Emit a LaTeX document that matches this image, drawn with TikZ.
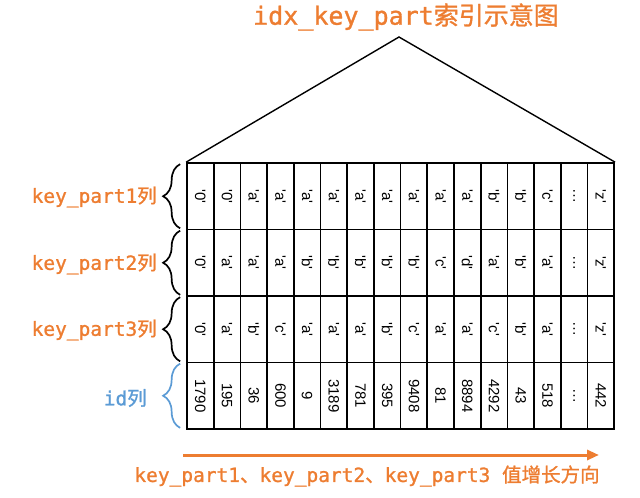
\documentclass[tikz,border=0pt]{standalone}
\usepackage{fontspec}
\usepackage{graphicx}
\usetikzlibrary{arrows.meta,decorations.pathreplacing}
\setmainfont{Liberation Sans}
\newfontfamily\cjk[FakeBold=1.2]{Noto Sans CJK SC}
\newfontfamily\lmono[FakeBold=1.2]{DejaVu Sans Mono}
\definecolor{orng}{RGB}{237,125,49}
\definecolor{blu}{RGB}{91,155,213}
\newcommand{\qq}[1]{\textquotesingle#1\textquotesingle}
\begin{document}
\begin{tikzpicture}[x=1pt,y=-1pt,
  cell/.style={draw,line width=1.7pt,minimum width=26.7pt,minimum height=66.5pt,inner sep=0pt,font=\fontsize{15}{15}\selectfont},
  bracedec/.style={decorate,decoration={brace,amplitude=17pt},line width=1.7pt},
  lbl/.style={anchor=east,inner sep=0pt,font=\fontsize{19.5}{19.5}\selectfont},
  ttl/.style={inner sep=0pt,text=orng,font=\fontsize{25}{25}\selectfont},
  edge/.style={line width=1.4pt,line join=miter}]
\useasboundingbox (0,0) rectangle (640,498);
% title
\node[ttl] (title) at (406,17) {{\lmono idx\_key\_part}{\cjk 索引示意图}};
% rows
\foreach \v [count=\k] in {\qq{0},\qq{0},\qq{a},\qq{a},\qq{a},\qq{a},\qq{a},\qq{a},\qq{a},\qq{a},\qq{a},\qq{b},\qq{b},\qq{c},…,\qq{z}}
  \node[cell] (c-1-\k) at ({187+26.7*(\k-0.5)},196.25) {\rotatebox{-90}{\v}};
\foreach \v [count=\k] in {\qq{0},\qq{a},\qq{a},\qq{a},\qq{b},\qq{b},\qq{b},\qq{b},\qq{b},\qq{c},\qq{d},\qq{a},\qq{b},\qq{a},…,\qq{z}}
  \node[cell] (c-2-\k) at ({187+26.7*(\k-0.5)},262.75) {\rotatebox{-90}{\v}};
\foreach \v [count=\k] in {\qq{0},\qq{a},\qq{b},\qq{c},\qq{a},\qq{a},\qq{a},\qq{b},\qq{c},\qq{a},\qq{a},\qq{c},\qq{b},\qq{a},…,\qq{z}}
  \node[cell] (c-3-\k) at ({187+26.7*(\k-0.5)},329.25) {\rotatebox{-90}{\v}};
\foreach \v [count=\k] in {1790,195,36,600,9,3189,781,395,9408,81,8894,4292,43,518,…,442}
  \node[cell] (c-4-\k) at ({187+26.7*(\k-0.5)},395.75) {\rotatebox{-90}{\v}};
% triangle
\coordinate (apex) at (399,37);
\draw[edge] (c-1-1.north west) -- (apex) -- (c-1-16.north east);
% braces
\foreach \r/\cc in {1/black,2/black,3/black,4/blu}
  \draw[bracedec,\cc] ([xshift=-6pt,yshift=2pt]c-\r-1.south west) -- ([xshift=-6pt,yshift=-2pt]c-\r-1.north west);
% labels
\node[lbl,text=orng] (l1) at (157,197) {{\lmono key\_part1}{\cjk 列}};
\node[lbl,text=orng] (l2) at (157,264) {{\lmono key\_part2}{\cjk 列}};
\node[lbl,text=orng] (l3) at (157,330) {{\lmono key\_part3}{\cjk 列}};
\node[lbl,text=blu] (l4) at (147,398) {{\lmono id}{\cjk 列}};
% arrow
\coordinate (arrS) at (183,455);
\coordinate (arrE) at (599,455);
\draw[orng,line width=3pt,-{Triangle[length=12pt,width=10pt]}] (arrS) -- (arrE);
\node[inner sep=0pt,text=orng,font=\fontsize{19.5}{19.5}\selectfont] (cap) at (367,476)
  {{\lmono key\_part1}{\cjk 、}{\lmono key\_part2}{\cjk 、}{\lmono key\_part3 }{\cjk 值增长方向}};
\end{tikzpicture}
\end{document}
